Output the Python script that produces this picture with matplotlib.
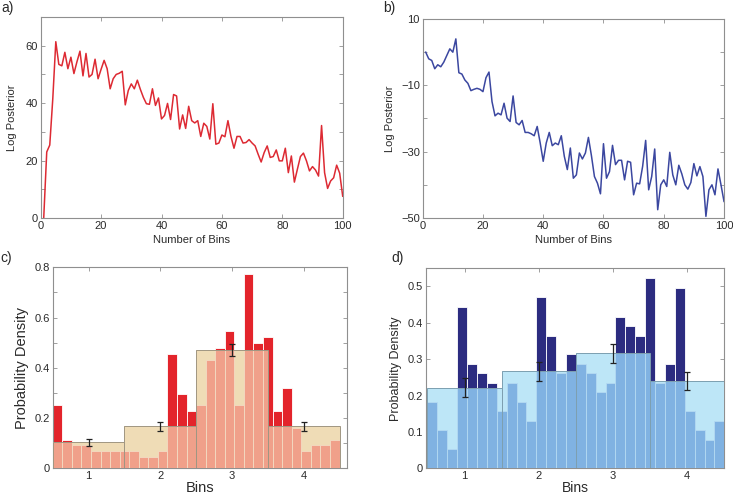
import numpy as np
import matplotlib
matplotlib.use("Agg")
import matplotlib.pyplot as plt
from matplotlib.patches import Rectangle, Polygon

plt.rcParams['font.family'] = ['Liberation Sans', 'DejaVu Sans']

# ---------------- data ----------------
n_bins = list(range(1, 101))
logpost_a = [0, 23, 25.4, 41.5, 61.4, 53.5, 53, 57.7, 52, 56,
             50.3, 54.4, 58.1, 49.5, 57.3, 49.1, 50, 55.3, 48.5, 51.8,
             54.9, 52, 45, 48.5, 50, 50.4, 51.1, 39.4, 44.4, 46.7,
             45, 48, 44.8, 42, 39.8, 39.6, 45, 39.2, 41.8, 34.5,
             35.7, 39.9, 34.3, 43, 42.5, 31, 35.9, 31.2, 38.9, 33.9,
             33.1, 33.9, 28.4, 33, 31.9, 27.5, 39.8, 25.7, 26.1, 28.9,
             28.3, 33.9, 28.4, 24.3, 28.4, 28.4, 26.1, 26.3, 27.3, 26.1,
             25.1, 22.2, 19.5, 22.8, 25.1, 21.1, 21.4, 23.7, 19.9, 19.9,
             24.3, 15.8, 21.6, 12.5, 17, 21.4, 22.6, 19.9, 16.4, 17.9,
             16.7, 14.6, 32.2, 15.8, 10.3, 12.9, 14, 18.4, 15.6, 7.6]
logpost_b = [0, -2, -2.5, -5, -3.8, -4.4, -3, -1, 1, 0,
             4, -6.2, -6.6, -8.4, -9.4, -11.6, -11.2, -10.9, -11.2, -11.9,
             -7.7, -6.0, -14.9, -19.2, -18.4, -18.9, -15.4, -19.9, -20.9, -13.2,
             -21.2, -21.9, -20.6, -24.2, -24.2, -24.6, -25.2, -22.4, -27.4, -32.9,
             -27.4, -24.2, -28.2, -27.4, -27.9, -25.2, -31.4, -35.4, -28.9, -38,
             -37, -30.4, -32.2, -30.4, -25.7, -31.2, -37.5, -39.5, -42.7, -27.6,
             -38, -36, -28.1, -33.9, -32.6, -32.6, -38.5, -32.9, -33.2, -43,
             -39.5, -39.7, -34.4, -26.6, -41.5, -37.5, -29.2, -47.5, -40, -38.5,
             -40.5, -30.2, -37, -40, -34.1, -36.7, -40, -41.3, -39.3, -33.6,
             -37.3, -34.5, -37.5, -49.5, -41.5, -40, -43, -35.2, -40, -45]

fine_c = [0.250, 0.114, 0.091, 0.091, 0.068, 0.068, 0.068, 0.068, 0.068, 0.045,
          0.045, 0.068, 0.455, 0.295, 0.227, 0.250, 0.432, 0.477, 0.545, 0.250,
          0.773, 0.500, 0.523, 0.227, 0.318, 0.159, 0.068, 0.091, 0.091, 0.114]
fine_d = [0.183, 0.104, 0.052, 0.443, 0.287, 0.261, 0.235, 0.157, 0.235, 0.183,
          0.130, 0.470, 0.365, 0.261, 0.313, 0.287, 0.261, 0.209, 0.235, 0.417,
          0.391, 0.365, 0.522, 0.235, 0.287, 0.496, 0.157, 0.104, 0.078, 0.130]
coarse_bins = [1, 2, 3, 4]
coarse_c = [0.103, 0.167, 0.470, 0.167]
coarse_d = [0.222, 0.267, 0.316, 0.240]
err_c = [0.013, 0.018, 0.025, 0.019]
err_d = [0.025, 0.026, 0.027, 0.025]

# ---------------- style ----------------
SPINE = '#8f8f8f'
TXT = '#2a2a2a'

fig = plt.figure(figsize=(7.33, 4.95), dpi=100)
W, H = 733, 495

def ax_px(l, t, r, b):
    return fig.add_axes([l / W, 1 - b / H, (r - l) / W, (b - t) / H])

def style(ax, fs=7.5):
    for s in ax.spines.values():
        s.set_color(SPINE)
        s.set_linewidth(0.8)
    ax.tick_params(direction='in', length=3, width=0.6, color=SPINE,
                   labelsize=fs, labelcolor=TXT, top=True, right=True, pad=2)

# panel a
ax_a = ax_px(40.7, 17, 342.7, 218)
ax_a.plot(n_bins, logpost_a, color='#dd2a33', lw=1.1)
ax_a.set_xlim(0, 100)
ax_a.set_ylim(0, 70)
ax_a.set_xticks(range(0, 101, 20))
ax_a.set_yticks(range(0, 71, 10))
ax_a.set_yticklabels(['0', '', '20', '', '40', '', '60', ''])
style(ax_a, fs=8)
ax_a.set_xlabel('Number of Bins', fontsize=8, color=TXT, labelpad=3)
ax_a.set_ylabel('Log Posterior', fontsize=8, color=TXT, labelpad=6)

# panel b
ax_b = ax_px(422.7, 19, 724, 218)
ax_b.plot(n_bins, logpost_b, color='#3b47a0', lw=1.1)
ax_b.set_xlim(0, 100)
ax_b.set_ylim(-50, 10)
ax_b.set_xticks(range(0, 101, 20))
ax_b.set_yticks(range(-50, 11, 10))
ax_b.set_yticklabels(['\u221250', '', '\u221230', '', '\u221210', '', '10'])
style(ax_b, fs=8)
ax_b.set_xlabel('Number of Bins', fontsize=8, color=TXT, labelpad=3)
ax_b.set_ylabel('Log Posterior', fontsize=8, color=TXT, labelpad=4)

def hist_panel(ax, fine, coarse, err, dark, light_bar, box, edge, gap):
    n = len(fine)
    w = 4.0 / n
    centers = [0.5 + w * (i + 0.5) for i in range(n)]
    # full-height dark bars
    ax.bar(centers, fine, width=w, color=dark, edgecolor='white', linewidth=0.6, zorder=2)
    # coarse boxes (opaque fill)
    for c, h in zip(coarse_bins, coarse):
        ax.add_patch(Rectangle((c - 0.5, 0), 1.0, h, facecolor=box,
                               edgecolor='none', zorder=3))
    # lighter bars, clipped to the coarse histogram outline
    verts = [(0.5, 0)]
    for c, h in zip(coarse_bins, coarse):
        verts += [(c - 0.5, h), (c + 0.5, h)]
    verts += [(4.5, 0)]
    clip = Polygon(verts, closed=True, transform=ax.transData, facecolor='none',
                   edgecolor='none')
    ax.add_patch(clip)
    bars = ax.bar(centers, fine, width=w, color=light_bar, edgecolor=gap,
                  linewidth=0.6, zorder=3.5)
    for b in bars:
        b.set_clip_path(clip)
    for c, h in zip(coarse_bins, coarse):
        ax.add_patch(Rectangle((c - 0.5, 0), 1.0, h, facecolor='none',
                               edgecolor=edge, linewidth=0.7, zorder=4))
    ax.errorbar(coarse_bins, coarse, yerr=err, fmt='none', ecolor='#222222',
                elinewidth=0.9, capsize=2, capthick=0.9, zorder=5)

# panel c
ax_c = ax_px(52.7, 267.3, 346.7, 468.3)
hist_panel(ax_c, fine_c, coarse_c, err_c, '#e3242b', '#f0a08a', '#efdcb6',
           '#a09682', '#f3dcc4')
ax_c.set_xlim(0.5, 4.6)
ax_c.set_ylim(0, 0.8)
ax_c.set_xticks(coarse_bins)
ax_c.set_yticks(np.arange(0, 0.81, 0.1))
ax_c.set_yticklabels(['0', '', '0.2', '', '0.4', '', '0.6', '', '0.8'])
style(ax_c, fs=8)
ax_c.set_xlabel('Bins', fontsize=10.5, color=TXT, labelpad=0)
ax_c.set_ylabel('Probability Density', fontsize=10.5, color=TXT, labelpad=4)

# panel d
ax_d = ax_px(426, 268.3, 724.3, 468.3)
hist_panel(ax_d, fine_d, coarse_d, err_d, '#2c2c80', '#80b2e2', '#bde6f7',
           '#7d9fb0', '#b4daf2')
ax_d.set_xlim(0.48, 4.5)
ax_d.set_ylim(0, 0.55)
ax_d.set_xticks(coarse_bins)
ax_d.set_yticks([0, 0.1, 0.2, 0.3, 0.4, 0.5])
ax_d.set_yticklabels(['0', '0.1', '0.2', '0.3', '0.4', '0.5'])
style(ax_d, fs=8)
ax_d.set_xlabel('Bins', fontsize=10, color=TXT, labelpad=0)
ax_d.set_ylabel('Probability Density', fontsize=9, color=TXT, labelpad=4)

# panel letters
for s, x, y in [('a)', 1, 1), ('b)', 383, 1), ('c)', 0, 251), ('d)', 391, 251)]:
    fig.text(x / W, 1 - y / H, s, fontsize=10, color=TXT, va='top', ha='left')

fig.savefig('out.png', dpi=100)
